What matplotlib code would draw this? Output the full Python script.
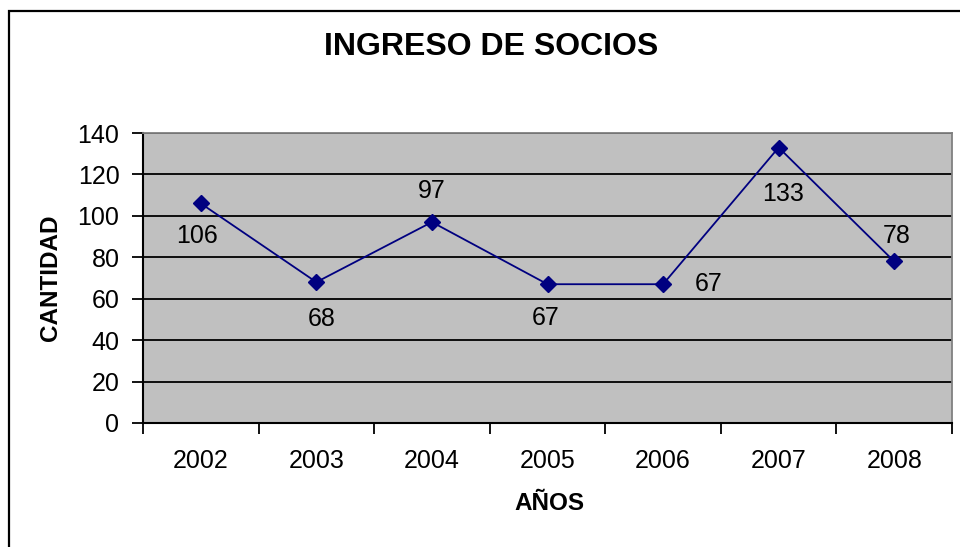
import matplotlib.pyplot as plt
from matplotlib.patches import Rectangle
import numpy as np

years = ['2002', '2003', '2004', '2005', '2006', '2007', '2008']
socios = [106, 68, 97, 67, 67, 133, 78]
# label offsets in pixels (dx, dy), like Excel placed them
offsets = [(-4, -33), (5, -37), (0, 31), (-2, -34), (46, 0), (4, -46), (2, 25)]

plt.rcParams['font.family'] = ['Liberation Sans', 'DejaVu Sans']

fig = plt.figure(figsize=(9.6, 5.47), dpi=100)
fig.patches.append(Rectangle((9/960, -0.1), 1.2, 1 - 11/547 + 0.1, transform=fig.transFigure,
                             fill=False, edgecolor='black', linewidth=1.6))

ax = fig.add_axes([143/960, 124/547, 809/960, 290/547])
ax.set_facecolor('#c0c0c0')

x = np.arange(len(years))
ax.plot(x, socios, color='#000080', linewidth=1.3, marker='D', markersize=8,
        markerfacecolor='#000080', markeredgecolor='#000080', zorder=3)
for xi, v, (dx, dy) in zip(x, socios, offsets):
    ax.annotate(str(v), (xi, v), xytext=(dx, dy), textcoords='offset pixels',
                ha='center', va='center', fontsize=18)

ax.set_xlim(-0.5, len(years) - 0.5)
ax.set_ylim(0, 140)
ax.set_yticks(range(0, 141, 20))
ax.yaxis.grid(True, color='black', linewidth=1.3)
ax.set_axisbelow(True)

ax.set_xticks(x)
ax.set_xticklabels(years)
ax.set_xticks(np.arange(-0.5, len(years), 1), minor=True)
ax.tick_params(axis='x', which='major', length=0, pad=19, labelsize=18)
ax.tick_params(axis='x', which='minor', length=8, width=1.3, direction='out')
ax.tick_params(axis='y', length=8, width=1.3, direction='out', pad=9, labelsize=18)

for s in ['top', 'right']:
    ax.spines[s].set_color('#808080')
    ax.spines[s].set_linewidth(1.3)
for s in ['left', 'bottom']:
    ax.spines[s].set_color('black')
    ax.spines[s].set_linewidth(1.5)

fig.text(491/960, 1 - 47/547, 'INGRESO DE SOCIOS', ha='center', va='center',
         fontsize=23, fontweight='bold')
fig.text(549/960, 1 - 503/547, 'AÑOS', ha='center', va='center',
         fontsize=17.5, fontweight='bold')
fig.text(50/960, 1 - 278/547, 'CANTIDAD', ha='center', va='center',
         fontsize=17.5, fontweight='bold', rotation=90)

fig.savefig('out.png', dpi=100)
plt.close()
